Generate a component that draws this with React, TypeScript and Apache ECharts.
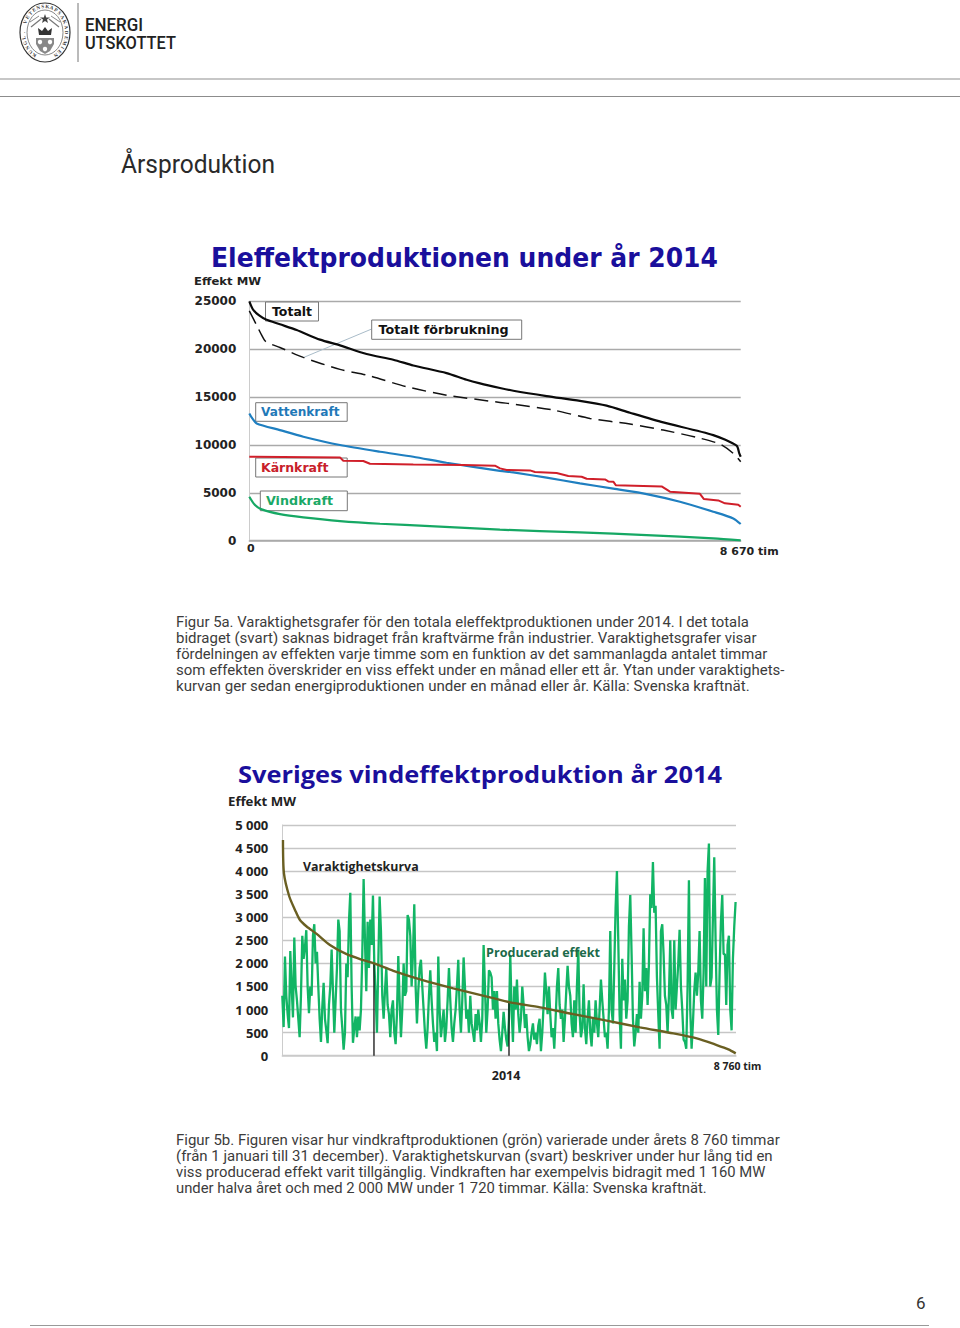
import React, { useEffect, useRef } from "react";
import * as echarts from "echarts";

const pageTitle = "Årsproduktion";
const chartTitleA = "Eleffektproduktionen under år 2014";
const chartTitleB = "Sveriges vindeffektproduktion år 2014";
const yUnit = "Effekt MW";

const captionA = [
  "Figur 5a. Varaktighetsgrafer för den totala eleffektproduktionen under 2014. I det totala",
  "bidraget (svart) saknas bidraget från kraftvärme från industrier. Varaktighetsgrafer visar",
  "fördelningen av effekten varje timme som en funktion av det sammanlagda antalet timmar",
  "som effekten överskrider en viss effekt under en månad eller ett år. Ytan under varaktighets-",
  "kurvan ger sedan energiproduktionen under en månad eller år. Källa: Svenska kraftnät.",
];
const captionB = [
  "Figur 5b. Figuren visar hur vindkraftproduktionen (grön) varierade under årets 8 760 timmar",
  "(från 1 januari till 31 december). Varaktighetskurvan (svart) beskriver under hur lång tid en",
  "viss producerad effekt varit tillgänglig. Vindkraften har exempelvis bidragit med 1 160 MW",
  "under halva året och med 2 000 MW under 1 720 timmar. Källa: Svenska kraftnät.",
];

// Figure 5a: [hours, MW]
const totalt = [[0,25000],[70,24100],[180,23500],[294,23100],[540,22600],[835,22000],[1247,21000],[1600,20400],[2070,19500],[2540,18900],[2893,18300],[3480,17500],[3834,16800],[4070,16425],[4422,15950],[4658,15660],[5246,15100],[5834,14600],[6304,14100],[6716,13360],[7304,12350],[8186,11030],[8598,9920],[8645,9120],[8670,8770]];
const forbrukning = [[0,24000],[130,22500],[218,21470],[294,20780],[540,20180],[953,19140],[1600,17890],[2070,17300],[2775,16080],[3480,15200],[4422,14440],[4658,14270],[5364,13640],[6010,12770],[6716,12180],[7304,11550],[7892,10790],[8304,10090],[8539,9120],[8670,8250]];
const vattenkraft = [[0,13290],[50,12800],[130,12250],[540,11550],[953,10860],[1600,9990],[2305,9290],[2893,8770],[3480,8140],[4422,7300],[4658,7130],[5246,6580],[5834,5990],[6422,5430],[7010,4870],[7598,4070],[8186,3030],[8539,2330],[8670,1740]];
const karnkraft = [[0,8770],[1600,8700],[1658,8350],[2011,8320],[2129,8040],[2893,7970],[3775,7900],[4334,7830],[4423,7550],[4540,7380],[4952,7340],[5040,7170],[5422,7060],[5628,6750],[5863,6680],[5952,6470],[6275,6400],[6334,6190],[6422,6160],[6469,5780],[7275,5670],[7422,5120],[7951,4900],[8021,4350],[8274,4210],[8392,3900],[8627,3760],[8670,3550]];
const vindkraft = [[0,4590],[100,3720],[218,3270],[540,2780],[953,2440],[1600,2050],[2305,1770],[3187,1530],[4422,1150],[5834,870],[7010,590],[8186,240],[8670,35]];

// Figure 5b
const producerad = [
1300,620,2150,1300,900,600,2270,1500,830,2560,1500,1200,800,400,1300,2600,2100,2350,2720,1500,
920,1500,1300,2600,2850,2000,2250,1500,800,300,1050,1580,800,550,270,1100,1500,2300,1400,500,
1200,1900,2950,2700,1000,600,130,500,2000,1700,2900,3530,1500,280,600,850,400,850,550,1000,
2200,3830,2500,1400,2900,1900,2950,2400,3470,2000,1300,500,2000,3450,2700,1300,800,1400,1900,1100,
900,400,1000,1200,500,250,900,2160,1200,400,1000,2000,1300,1400,3050,2950,2600,1500,2200,3280,
1500,700,1400,1900,2080,1500,1000,500,150,600,1300,1850,1200,700,300,500,100,2150,1000,400,
700,1000,300,600,1200,1900,1200,600,300,700,1000,1500,2080,1000,500,1200,2130,1500,800,1000,
500,1300,700,500,300,900,550,1000,700,300,800,2400,1500,500,1000,1850,
1800,1700,1000,1400,800,1400,700,350,100,500,950,600,350,200,800,2170,1000,300,1500,1000,
1650,900,500,800,1500,1100,600,900,400,100,250,500,700,350,500,250,650,800,100,500,
1100,1800,1400,900,1500,900,400,600,150,800,1500,1900,1100,800,1000,300,800,1400,1950,1500,
1300,700,400,1200,500,1500,2300,900,400,600,1550,600,250,800,1200,500,200,800,500,1200,
700,400,1000,1650,1200,800,400,500,150,1000,2700,1000,700,1900,3200,4000,2500,900,150,2100,
1200,1650,800,1200,2800,3480,2200,800,200,500,900,500,1600,800,1300,2760,1400,1900,1100,2000,
3500,3200,4200,3100,3250,1700,900,150,2700,2850,2200,1300,1100,500,1300,2500,1000,800,2500,1000,
1500,2000,2730,1500,1000,350,300,150,1500,3800,1000,150,700,1400,1800,1300,1800,2700,1200,800,
1800,3850,1500,4000,4600,1500,1700,3000,4300,2500,1000,450,1800,2900,3480,2200,2200,1100,2400,2600,
1000,550,2100,2800,3330,
];
const varaktighet = [[13,4675],[32,3950],[135,3450],[245,3160],[341,2940],[470,2800],[663,2640],[920,2400],[1242,2200],[1564,2070],[1770,2000],[2144,1840],[2660,1655],[3302,1460],[4010,1265],[4397,1156],[4976,1048],[5620,900],[6263,760],[6907,614],[7551,484],[8002,376],[8388,231],[8613,137],[8755,50]];
const markerA = [[1770,0],[1770,2000]];
const markerB = [[4377,0],[4377,1156]];

const boldA = "bold 12px 'DejaVu Sans'";
const boldB = "bold 12px 'Open Sans'";
const labelA = { fontFamily: "DejaVu Sans", fontWeight: "bold" as const, fontSize: 12, color: "#222" };
const labelB = { fontFamily: "Open Sans", fontWeight: "bold" as const, fontSize: 13, color: "#222" };

function App() {
  const ref = useRef<HTMLDivElement>(null);
  useEffect(() => {
    document.body.style.margin = "0";
    const chart = echarts.init(ref.current!, undefined, { renderer: "svg" });

    const t = (text: string, x: number, y: number, font: string, fill: string, scaleX = 1) => ({
      type: "text", x, y, z: 20, scaleX,
      style: { text, font, fill, verticalAlign: "middle", align: "left" },
    });
    const box = (x: number, y: number, width: number, height: number) => ({
      type: "rect", z: 1, shape: { x, y, width, height },
      style: { fill: "#fff", stroke: "#777", lineWidth: 1 },
    });
    const ln = (x1: number, y1: number, x2: number, y2: number, stroke: string, lineWidth: number) => ({
      type: "line", z: 1, shape: { x1, y1, x2, y2 }, style: { stroke, lineWidth },
    });

    // Seal in the header
    const cx = 45, cy = 32.5, rx = 25, ry = 29.5;
    const ringText = "KUNGL. VETENSKAPSAKADEMIEN";
    const seal: any[] = [
      { type: "ellipse", z: 1, shape: { cx, cy, rx, ry }, style: { fill: "#fff", stroke: "#333", lineWidth: 1.2 } },
      { type: "ellipse", z: 1, shape: { cx, cy, rx: rx - 7, ry: ry - 7 }, style: { fill: "#fff", stroke: "#555", lineWidth: 0.7 } },
      { type: "polygon", z: 2, shape: { points: [[45,14],[46.2,17.5],[50,17.5],[47,19.6],[48,23],[45,21],[42,23],[43,19.6],[40,17.5],[43.8,17.5]] }, style: { fill: "#444" } },
      ln(31, 27, 41, 19, "#777", 1.2), ln(59, 27, 49, 19, "#777", 1.2),
      ln(30, 22, 39, 16, "#888", 1), ln(60, 22, 51, 16, "#888", 1),
      { type: "polygon", z: 2, shape: { points: [[39,35],[38,28],[42,31],[45,27],[48,31],[52,28],[51,35]] }, style: { fill: "#333" } },
      { type: "polygon", z: 2, shape: { points: [[36,38],[36,44],[40,51],[45,54],[50,51],[54,44],[54,38]] }, style: { fill: "#888" } },
      { type: "circle", z: 3, shape: { cx: 40, cy: 42, r: 2.2 }, style: { fill: "#fff" } },
      { type: "circle", z: 3, shape: { cx: 50, cy: 42, r: 2.2 }, style: { fill: "#fff" } },
      { type: "circle", z: 3, shape: { cx: 45, cy: 49, r: 2.2 }, style: { fill: "#fff" } },
    ];
    ringText.split("").forEach((ch, i) => {
      const a = ((-150 + (300 * i) / (ringText.length - 1)) * Math.PI) / 180;
      seal.push({
        type: "text", z: 2,
        x: cx + (rx - 3.5) * Math.sin(a), y: cy - (ry - 3.5) * Math.cos(a), rotation: -a,
        style: { text: ch, font: "bold 5px 'Liberation Serif'", fill: "#333", align: "center", verticalAlign: "middle" },
      });
    });

    const blue = "#1a0f9c";
    const bodyFont = "14px Roboto";
    const bodyFill = "#3c3c3c";
    const scalesA = [1.064, 1.0715, 1.057, 1.0713, 1.079];
    const scalesB = [1.0713, 1.0732, 1.0589, 1.06];
    const graphics: any[] = [
      ...seal,
      ln(78, 3, 78, 62, "#777", 1),
      t("ENERGI", 85, 24.5, "500 18px Roboto", "#222", 0.94),
      t("UTSKOTTET", 85, 43, "500 18px Roboto", "#222", 0.91),
      ln(0, 79, 960, 79, "#b4b4b4", 1.6),
      ln(0, 96.5, 960, 96.5, "#8c8c8c", 1),
      t(pageTitle, 121, 164, "25px Roboto", "#2a2a2a", 0.98),

      t(chartTitleA, 211, 258, "bold 26px 'DejaVu Sans'", blue, 0.964),
      t(yUnit, 194, 281, "bold 11px 'DejaVu Sans'", "#222", 1.06),
      box(265.5, 302, 53, 19),
      t("Totalt", 272, 312, boldA, "#111", 1.04),
      ln(371.7, 329, 304, 357.3, "#a9bcc9", 1),
      box(371.7, 320, 150, 19.3),
      t("Totalt förbrukning", 378.5, 330, boldA, "#111", 1.06),
      box(255.7, 402.7, 91.5, 18.6),
      t("Vattenkraft", 261, 412, boldA, "#1f79b8", 1.01),
      box(255.7, 458, 91.5, 19),
      t("Kärnkraft", 261, 468, boldA, "#c8202a", 1.04),
      box(260.3, 491, 87, 19.7),
      t("Vindkraft", 266, 501, boldA, "#1aa866", 1.06),
      ...captionA.map((s, i) => t(s, 176, [623, 639, 655, 671, 686.5][i], bodyFont, bodyFill, scalesA[i])),

      t(chartTitleB, 238, 773.5, "bold 24px 'Open Sans'", blue, 1.059),
      t(yUnit, 228, 802, "bold 11.5px 'Open Sans'", "#222", 1.15),
      t("Varaktighetskurva", 303, 866.5, boldB, "#222", 1.035),
      t("Producerad effekt", 486, 953, boldB, "#1c6a4a", 1.05),
      ...captionB.map((s, i) => t(s, 176, [1141, 1157, 1173, 1189][i], bodyFont, bodyFill, scalesB[i])),

      t("6", 916, 1303, "17px Roboto", "#333"),
      ln(30, 1325.5, 929, 1325.5, "#999", 1),
    ];

    const lineSeries = (data: number[][], color: string, width: number, gridIdx: number, extra: any = {}, smooth: number | boolean = false) => ({
      type: "line", data, xAxisIndex: gridIdx, yAxisIndex: gridIdx, showSymbol: false, symbol: "none",
      smooth, silent: true, lineStyle: { color, width, ...extra }, z: 3,
    });

    const windStep = 8752 / (producerad.length - 1);
    const windData = producerad.map((v, i) => [i * windStep, v]);

    chart.setOption({
      animation: false,
      backgroundColor: "#fff",
      graphic: { elements: graphics },
      grid: [
        { left: 249.3, top: 301.3, width: 491.4, height: 239.4 },
        { left: 282.3, top: 825, width: 453.7, height: 230.7 },
      ],
      xAxis: [
        {
          type: "value", gridIndex: 0, min: 0, max: 8670, interval: 8670,
          splitLine: { show: false }, axisTick: { show: false },
          axisLine: { lineStyle: { color: "#aaa", width: 1.5 } },
          axisLabel: {
            margin: 2, showMinLabel: true, showMaxLabel: true,
            formatter: (v: number) => (v === 0 ? "{z|0}" : "{m|8 670 tim}"),
            rich: {
              z: { ...labelA, fontSize: 11, padding: [0, 0, 0, 3] },
              m: { ...labelA, fontSize: 11, padding: [3, 0, 0, 17] },
            },
          },
        },
        {
          type: "value", gridIndex: 1, min: 0, max: 8760,
          splitLine: { show: false }, axisTick: { show: false },
          axisLine: { lineStyle: { color: "#ccc", width: 1.5 } },
          axisLabel: {
            margin: 5, customValues: [4320, 8760],
            formatter: (v: number) => (v === 8760 ? "{m|8 760 tim}" : "{y|2014}"),
            rich: {
              y: { ...labelB, fontSize: 12.5, padding: [8, 0, 0, 0] },
              m: { ...labelB, fontSize: 10.5, padding: [0, 0, 0, 3] },
            },
          },
        },
      ],
      yAxis: [
        {
          type: "value", gridIndex: 0, min: 0, max: 25000, interval: 5000,
          axisLine: { show: true, lineStyle: { color: "#ccc", width: 1 } }, axisTick: { show: false },
          splitLine: { lineStyle: { color: "#aaa", width: 1.4 } },
          axisLabel: { margin: 13, ...labelA, formatter: (v: number) => String(v) },
        },
        {
          type: "value", gridIndex: 1, min: 0, max: 5000, interval: 500,
          axisLine: { show: true, lineStyle: { color: "#ccc", width: 1 } }, axisTick: { show: false },
          splitLine: { lineStyle: { color: "#c6c6c6", width: 1.4 } },
          axisLabel: {
            margin: 14, ...labelB,
            formatter: (v: number) => (v === 0 ? "0" : `${Math.floor(v / 1000) || ""} ${String(v % 1000).padStart(3, "0")}`.trim()),
          },
        },
      ],
      series: [
        lineSeries(vindkraft, "#16a864", 2.2, 0, {}, 0.25),
        lineSeries(vattenkraft, "#1f7fc0", 2.2, 0, {}, 0.25),
        lineSeries(karnkraft, "#d01f2a", 2, 0),
        lineSeries(forbrukning, "#111", 1.5, 0, { type: [14, 7] }, 0.25),
        lineSeries(totalt, "#0a0a0a", 2.2, 0, {}, 0.25),
        lineSeries(windData, "#12b565", 2.3, 1),
        lineSeries(markerA, "#111", 1.3, 1),
        lineSeries(markerB, "#111", 1.3, 1),
        lineSeries(varaktighet, "#6a5f22", 2.4, 1, {}, 0.25),
      ],
    });
    return () => chart.dispose();
  }, []);
  return <div ref={ref} style={{ width: 960, height: 1328 }} />;
}

export default App;
